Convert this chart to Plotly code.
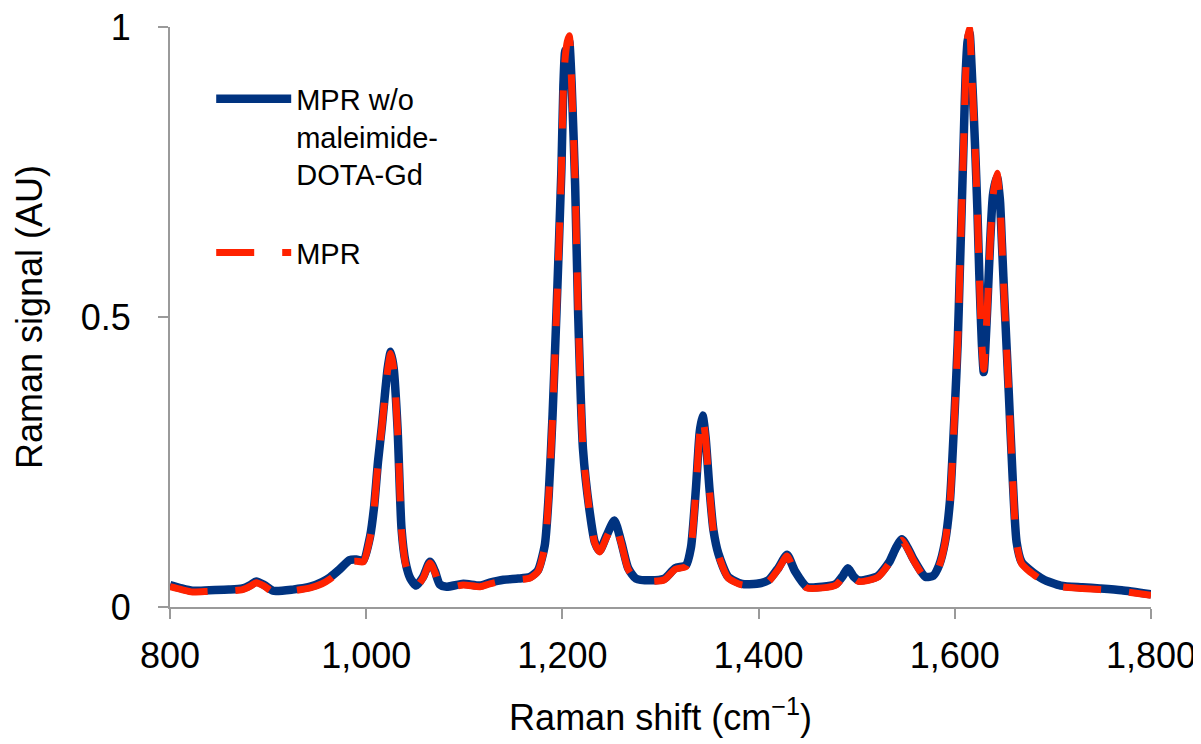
import plotly.graph_objects as go

# Raman shift (cm-1)
wavenumber = [800, 812, 823, 840, 860, 874, 882, 888, 896, 905, 925, 943, 955, 963, 973, 983, 990, 997,
              1004, 1008, 1012, 1016, 1019, 1022, 1025, 1028, 1032, 1036, 1040, 1045, 1051, 1058, 1065,
              1070, 1075, 1082, 1099, 1116, 1126, 1140, 1155, 1167, 1175, 1182, 1186, 1190, 1194, 1199,
              1201, 1203, 1205, 1207, 1209.5, 1213, 1216, 1221, 1228, 1233, 1238, 1245, 1253, 1260, 1267,
              1275, 1290, 1304, 1315, 1326, 1331, 1336, 1340, 1343, 1346, 1350, 1354, 1359, 1369, 1383,
              1398, 1410, 1420, 1429, 1437, 1449, 1465, 1479, 1486, 1491, 1497, 1502, 1512, 1522, 1533,
              1540, 1546, 1552, 1558, 1570, 1578, 1584, 1590, 1595, 1600, 1603, 1605, 1607, 1609, 1611,
              1613, 1615, 1617, 1620.5, 1623, 1625, 1627.5, 1629.5, 1633, 1636, 1639, 1643, 1646, 1648,
              1651, 1655, 1659, 1663, 1668, 1675, 1690, 1708, 1730, 1748, 1770, 1800]

# MPR (red dashed)
mpr = [0.035, 0.030, 0.026, 0.027, 0.028, 0.030, 0.036, 0.042, 0.036, 0.026, 0.028, 0.033, 0.040, 0.048,
       0.062, 0.078, 0.079, 0.078, 0.120, 0.170, 0.248, 0.310, 0.362, 0.410, 0.437, 0.410, 0.305, 0.133,
       0.075, 0.047, 0.035, 0.050, 0.076, 0.060, 0.037, 0.033, 0.038, 0.035, 0.040, 0.045, 0.047, 0.050,
       0.061, 0.104, 0.190, 0.330, 0.507, 0.753, 0.897, 0.950, 0.975, 0.985, 0.897, 0.725, 0.507, 0.270,
       0.160, 0.110, 0.095, 0.120, 0.146, 0.110, 0.065, 0.047, 0.044, 0.047, 0.065, 0.070, 0.100, 0.200,
       0.300, 0.328, 0.290, 0.200, 0.130, 0.090, 0.050, 0.038, 0.038, 0.044, 0.065, 0.088, 0.060, 0.033,
       0.033, 0.038, 0.052, 0.065, 0.050, 0.044, 0.046, 0.052, 0.075, 0.100, 0.115, 0.100, 0.080, 0.050,
       0.052, 0.070, 0.110, 0.180, 0.340, 0.455, 0.570, 0.684, 0.800, 0.914, 0.980, 0.998, 0.930, 0.800,
       0.684, 0.570, 0.455, 0.410, 0.510, 0.626, 0.710, 0.748, 0.700, 0.626, 0.511, 0.368, 0.220, 0.110,
       0.075, 0.063, 0.045, 0.035, 0.032, 0.030, 0.027, 0.020]

# MPR w/o maleimide-DOTA-Gd (blue solid)
mpr_wo = [0.038, 0.032, 0.028, 0.029, 0.030, 0.032, 0.038, 0.044, 0.038, 0.028, 0.030, 0.035, 0.043, 0.051,
          0.065, 0.081, 0.082, 0.080, 0.122, 0.172, 0.250, 0.312, 0.365, 0.413, 0.440, 0.412, 0.307, 0.135,
          0.078, 0.049, 0.037, 0.052, 0.078, 0.062, 0.039, 0.035, 0.040, 0.037, 0.042, 0.047, 0.049, 0.052,
          0.063, 0.106, 0.192, 0.332, 0.509, 0.755, 0.899, 0.960, 0.950, 0.975, 0.899, 0.727, 0.509, 0.272,
          0.162, 0.112, 0.097, 0.123, 0.149, 0.112, 0.067, 0.049, 0.046, 0.049, 0.067, 0.072, 0.102, 0.202,
          0.302, 0.330, 0.292, 0.202, 0.132, 0.092, 0.052, 0.040, 0.040, 0.046, 0.067, 0.090, 0.062, 0.035,
          0.035, 0.040, 0.054, 0.067, 0.052, 0.046, 0.048, 0.054, 0.077, 0.102, 0.117, 0.102, 0.082, 0.052,
          0.054, 0.072, 0.112, 0.182, 0.342, 0.457, 0.572, 0.686, 0.802, 0.916, 0.975, 0.990, 0.935, 0.802,
          0.686, 0.572, 0.457, 0.405, 0.512, 0.628, 0.712, 0.742, 0.702, 0.628, 0.513, 0.370, 0.222, 0.112,
          0.078, 0.066, 0.048, 0.037, 0.034, 0.032, 0.029, 0.022]

x_ticks = [800, 1000, 1200, 1400, 1600, 1800]
x_tick_labels = ["800", "1,000", "1,200", "1,400", "1,600", "1,800"]
y_ticks = [0, 0.5, 1]
y_tick_labels = ["0", "0.5", "1"]

FONT = "Liberation Sans, Arial, sans-serif"
AXIS_COLOR = "#9a9a9a"

fig = go.Figure()
fig.add_trace(go.Scatter(
    x=wavenumber, y=mpr_wo, mode="lines",
    name="MPR w/o<br>maleimide-<br>DOTA-Gd<br> ",
    line=dict(color="#003380", width=8.5, shape="spline", smoothing=0.6),
))
fig.add_trace(go.Scatter(
    x=wavenumber, y=mpr, mode="lines",
    name="MPR",
    line=dict(color="#ff2200", width=7, dash="38px,28px", shape="spline", smoothing=0.6),
))

# the page body adds an 8px offset, so the figure is 8px smaller and margins compensate
fig.update_layout(
    width=1193, height=736,
    margin=dict(l=162, r=50, t=19, b=137, autoexpand=False),
    paper_bgcolor="white", plot_bgcolor="white",
    font=dict(family=FONT, color="black", size=36),
    showlegend=True,
    legend=dict(
        x=0.042, y=0.92, xanchor="left", yanchor="top",
        bgcolor="rgba(0,0,0,0)", font=dict(size=29, family=FONT),
        valign="top", itemwidth=75, tracegroupgap=0,
    ),
    xaxis=dict(
        range=[800, 1800], tickmode="array", tickvals=x_ticks, ticktext=x_tick_labels,
        showgrid=False, zeroline=False, showline=True, linecolor=AXIS_COLOR, linewidth=2,
        ticks="outside", ticklen=10, tickwidth=2, tickcolor=AXIS_COLOR,
        tickfont=dict(size=36), ticklabelstandoff=6, automargin=False,
        ticklabeloverflow="allow",
        title=dict(text="Raman shift (cm<sup>\u22121</sup>)", font=dict(size=36), standoff=30),
    ),
    yaxis=dict(
        range=[0, 1], tickmode="array", tickvals=y_ticks, ticktext=y_tick_labels,
        showgrid=False, zeroline=False, showline=True, linecolor=AXIS_COLOR, linewidth=2,
        ticks="outside", ticklen=10, tickwidth=2, tickcolor=AXIS_COLOR,
        tickfont=dict(size=36), ticklabelstandoff=20, automargin=False,
        ticklabeloverflow="allow",
        title=dict(text="Raman signal (AU)", font=dict(size=36), standoff=27),
    ),
)

fig.write_html("out.html")
